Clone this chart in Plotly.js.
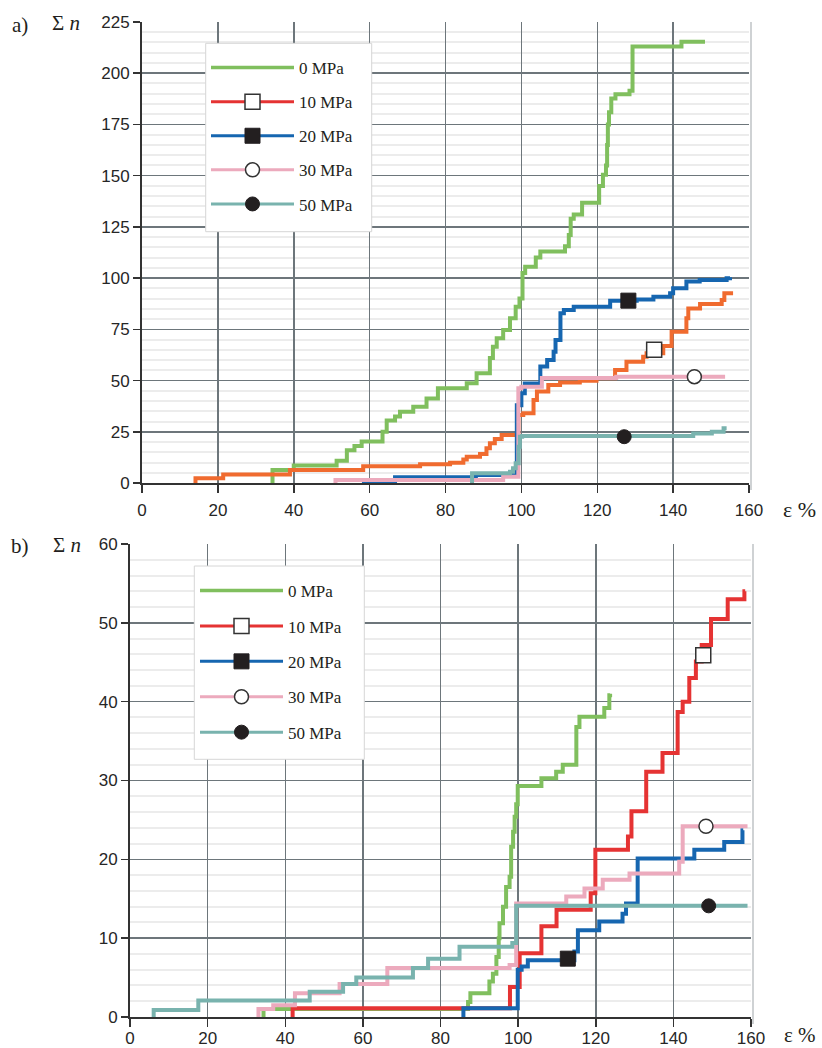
<!DOCTYPE html>
<html><head><meta charset="utf-8">
<script src="https://cdn.plot.ly/plotly-3.0.1.min.js"></script>
<style>html,body{margin:0;padding:0;background:#fff;} #chart{width:822px;height:1048px;}</style>
</head><body><div id="chart"></div>
<script>
// ---------- series names ----------
const seriesNames = ['0 MPa', '10 MPa', '20 MPa', '30 MPa', '50 MPa'];

// ---------- panel a) : strain (%) vs cumulative count ----------
const a_x_0  = [34, 34.4, 40, 51.3, 54, 56, 57.9, 63.4, 64.5, 66.7, 68, 71.5, 75, 78, 85.6, 88.2, 91.7, 92.5, 93.5, 95.2, 97, 98.5, 99.5, 100.3, 101, 103.8, 105, 111.5, 112.5, 113, 113.8, 116, 120.5, 121.5, 122.3, 122.6, 122.8, 123.1, 123.7, 124.8, 128.5, 129.3, 142.2, 148.4];
const a_y_0  = [0, 6.3, 8.5, 10.9, 16, 18, 20.2, 25, 30.5, 32.4, 34.8, 37.2, 41.3, 46.2, 48.7, 53.6, 61, 66.5, 70.6, 74.7, 80.4, 86, 90, 102.5, 105.6, 110, 113, 115.5, 121, 129, 131, 136.8, 145, 150.5, 155, 165, 175, 181, 187.7, 189.7, 191.5, 213, 215.4, 215.4];

const a_x_10 = [14, 14.1, 21.4, 39, 58.3, 73.3, 81.2, 84.7, 85.6, 89.1, 90.8, 91.7, 93, 94.8, 99.2, 100.5, 103.2, 104.1, 107.1, 110.2, 115.4, 119.8, 124.7, 127.7, 132.1, 133, 137.4, 139.6, 143.5, 144, 147.1, 152.8, 153.5, 155.8];
const a_y_10 = [0, 2.3, 4.2, 6.3, 8.2, 9.1, 9.9, 11.5, 12.8, 14.1, 16.9, 19.4, 21.5, 23.4, 33.2, 34, 40.5, 44.6, 47.8, 49, 49.9, 51.1, 55.1, 59.2, 61.6, 63.3, 66.9, 73.8, 80.4, 85.2, 87.4, 89.3, 92.6, 92.6];

const a_x_20 = [58.4, 58.5, 66.7, 88, 98.8, 100, 100.9, 105, 106.8, 108.5, 109, 110.3, 111.2, 113.8, 123.4, 130.4, 134.8, 139.2, 140, 143.5, 147, 154.1, 155];
const a_y_20 = [0, 0.7, 2.8, 3.9, 38, 43.8, 48.6, 56.8, 60, 64.1, 69.8, 82.8, 84.4, 86, 89, 89.6, 90.9, 92.6, 95, 98.3, 99.1, 99.9, 100.4];

const a_x_30 = [50.9, 51, 95.2, 99.2, 100, 105.4, 125, 153.7];
const a_y_30 = [0, 1.5, 3.1, 46.2, 47, 51.3, 51.9, 51.9];

const a_x_50 = [86.9, 87, 97, 97.8, 98.5, 99.3, 99.6, 100.2, 145.3, 150.2, 153.3, 154.1];
const a_y_50 = [0, 4.7, 5.5, 7.2, 9.6, 17.7, 22.6, 22.9, 24.2, 25, 26.7, 26.7];

// single marker position on each curve (10, 20, 30, 50 MPa)
const a_mark_x = [135, 128.2, 145.6, 127.1];
const a_mark_y = [65, 89, 51.9, 22.6];

// ---------- panel b) ----------
const b_x_0  = [34.3, 34.4, 87.1, 87.7, 92.6, 93.5, 94.4, 95, 95.2, 96.1, 96.9, 97.8, 98.2, 98.7, 99.1, 99.5, 99.9, 106, 109.8, 111.5, 115, 115.8, 122.2, 123.5, 123.7];
const b_y_0  = [0, 1, 1.9, 3, 4.5, 5.5, 7.6, 10, 11.9, 14, 16.5, 17.8, 21.6, 23.5, 25.4, 27, 29.3, 30.3, 31.1, 32, 36.8, 38.1, 39.2, 40.8, 41];

const b_x_10 = [41.8, 41.9, 97.9, 100.4, 106, 109.9, 118.7, 119.9, 128.3, 129.2, 133, 137.2, 141.1, 142.4, 144.1, 145.8, 147.3, 149.7, 154, 158.3, 158.5];
const b_y_10 = [0, 1.1, 3.8, 8.1, 11.5, 13.6, 15.7, 21.2, 22.9, 26.1, 31.1, 33.5, 38.7, 40, 43, 45.1, 47.2, 50.5, 53, 54, 54];

const b_x_20 = [85.8, 85.9, 99.9, 100.9, 102.5, 114.5, 115.4, 120.9, 126.9, 127.8, 130.8, 145.4, 153.1, 157.8, 158];
const b_y_20 = [0, 1.1, 6, 6.4, 7.2, 8.3, 11, 12.1, 13.1, 14.4, 20.1, 21.2, 22.2, 23.7, 23.7];

const b_x_30 = [33, 33.1, 36.9, 42.5, 54, 66.3, 97.8, 99.5, 112.4, 117.1, 121.8, 128.7, 141.5, 142.4, 159.1];
const b_y_30 = [0, 1, 1.5, 3, 4.2, 6.2, 6.6, 14.4, 15.3, 16.3, 17.4, 18.2, 19.7, 24.2, 24.2];

const b_x_50 = [6, 6.1, 17.6, 46.3, 54.9, 58.3, 72.9, 76.8, 84.9, 98.5, 99.5, 159.1];
const b_y_50 = [0, 0.9, 2.1, 3.2, 4.2, 5, 6.2, 7.4, 8.9, 9.4, 14.1, 14.1];

const b_mark_x = [147.7, 112.8, 148.4, 149.1];
const b_mark_y = [45.9, 7.4, 24.2, 14.1];

// ---------- axis ticks ----------
const a_ytick_step = 25, a_yminor = 5, b_ytick_step = 10, b_yminor = 2, xtick_step = 20;

// ---------- styles ----------
const C = {green: '#80bf5e', orange: '#f06b2f', red: '#e53333', blue: '#1666b0', pink: '#ecaabd', teal: '#79b3ae'};
const ink = '#231f20';
const markerStyles = [
  {symbol: 'square', size: 15, color: '#ffffff', line: {color: '#333333', width: 1.5}},
  {symbol: 'square', size: 15, color: ink, line: {color: ink, width: 1}},
  {symbol: 'circle', size: 14, color: '#ffffff', line: {color: '#333333', width: 1.5}},
  {symbol: 'circle', size: 14, color: ink, line: {color: ink, width: 1}}
];

function panel(xs, ys, mx, my, lineColors, legendColors, xa, ya, leg) {
  const tr = [];
  for (let i = 0; i < 5; i++) {
    tr.push({
      type: 'scatter', mode: 'lines', x: xs[i], y: ys[i],
      line: {shape: 'hv', color: lineColors[i], width: 4},
      xaxis: xa, yaxis: ya, name: seriesNames[i],
      showlegend: false, legend: leg, hoverinfo: 'skip'
    });
  }
  // legend entries (0 MPa: line only, others carry the single marker on the curve)
  tr.push({
    type: 'scatter', mode: 'lines', x: [null], y: [null],
    line: {color: legendColors[0], width: 3.5},
    xaxis: xa, yaxis: ya, name: seriesNames[0],
    showlegend: true, legend: leg, legendgroup: leg + 'g0', legendrank: 1, hoverinfo: 'skip'
  });
  for (let k = 0; k < 4; k++) {
    tr.push({
      type: 'scatter', mode: 'lines+markers', x: [mx[k]], y: [my[k]],
      line: {color: legendColors[k + 1], width: 3},
      marker: markerStyles[k],
      xaxis: xa, yaxis: ya, name: seriesNames[k + 1],
      showlegend: true, legend: leg, legendgroup: leg + 'g' + (k + 1), legendrank: k + 2,
      hoverinfo: 'skip'
    });
  }
  return tr;
}

const data = []
  .concat(panel([a_x_0, a_x_10, a_x_20, a_x_30, a_x_50], [a_y_0, a_y_10, a_y_20, a_y_30, a_y_50],
                a_mark_x, a_mark_y,
                [C.green, C.orange, C.blue, C.pink, C.teal],
                [C.green, C.red, C.blue, C.pink, C.teal], 'x', 'y', 'legend'))
  .concat(panel([b_x_0, b_x_10, b_x_20, b_x_30, b_x_50], [b_y_0, b_y_10, b_y_20, b_y_30, b_y_50],
                b_mark_x, b_mark_y,
                [C.green, C.red, C.blue, C.pink, C.teal],
                [C.green, C.red, C.blue, C.pink, C.teal], 'x2', 'y2', 'legend2'));

const W = 822, H = 1048;
const tickFont = {family: 'Liberation Sans', size: 17, color: '#262626'};
const majorGrid = '#6d767b';
function xAxis(dom, anchor, standoff) {
  return {domain: dom, anchor: anchor, range: [0, 160], dtick: xtick_step, tick0: 0,
    showgrid: true, gridcolor: majorGrid, gridwidth: 1.5, zeroline: false,
    showline: true, linecolor: '#333', linewidth: 2, ticks: 'outside', ticklen: 8, tickwidth: 1.5, tickcolor: '#333',
    ticklabelstandoff: standoff, tickfont: tickFont, fixedrange: true};
}
function yAxis(dom, anchor, maxv, step, minor) {
  return {domain: dom, anchor: anchor, range: [0, maxv], dtick: step, tick0: 0,
    showgrid: true, gridcolor: majorGrid, gridwidth: 1.5, zeroline: false,
    minor: {dtick: minor, showgrid: true, gridcolor: '#ececec', gridwidth: 2, ticks: ''},
    showline: true, linecolor: '#333', linewidth: 2, ticks: 'outside', ticklen: 7, tickwidth: 1.5, tickcolor: '#333',
    tickfont: tickFont, fixedrange: true};
}
const serif = 'Liberation Serif';
function ann(text, px, py, size) {
  return {text: text, xref: 'paper', yref: 'paper', x: px / W, y: 1 - py / H,
    xanchor: 'center', yanchor: 'middle', showarrow: false, borderpad: 0,
    font: {family: serif, size: size, color: ink}};
}
function box(x0, y0, x1, y1) {
  return {type: 'rect', xref: 'paper', yref: 'paper', x0: x0 / W, x1: x1 / W, y0: 1 - y1 / H, y1: 1 - y0 / H,
    fillcolor: '#ffffff', line: {color: '#d6d6d6', width: 1}, layer: 'above'};
}
function edge(px, py0, py1) {
  return {type: 'line', xref: 'paper', yref: 'paper', x0: px / W, x1: px / W, y0: 1 - py1 / H, y1: 1 - py0 / H,
    line: {color: '#cfd2d4', width: 2}, layer: 'below'};
}
const legendBase = {bgcolor: 'rgba(0,0,0,0)', borderwidth: 0,
  font: {family: serif, size: 17, color: ink}, itemwidth: 83,
  xanchor: 'left', yanchor: 'top', traceorder: 'grouped'};

const layout = {
  width: W, height: H, margin: {l: 0, r: 0, t: 0, b: 0},
  paper_bgcolor: '#ffffff', plot_bgcolor: '#ffffff',
  xaxis: xAxis([142 / W, 749 / W], 'y', 3),
  yaxis: yAxis([1 - 483 / H, 1 - 22 / H], 'x', 225, a_ytick_step, a_yminor),
  xaxis2: xAxis([130 / W, 751 / W], 'y2', -3),
  yaxis2: yAxis([1 - 1017 / H, 1 - 544 / H], 'x2', 60, b_ytick_step, b_yminor),
  legend: Object.assign({}, legendBase, {x: 206 / W, y: 1 - 50 / H, tracegroupgap: 9}),
  legend2: Object.assign({}, legendBase, {x: 195 / W, y: 1 - 573 / H, tracegroupgap: 10.3}),
  shapes: [box(205.7, 43.3, 371.7, 231.7), box(194.3, 566, 364.3, 759.3),
           edge(751, 22, 490), edge(753, 544, 1024)],
  annotations: [
    ann('a)', 20, 25, 21), ann('Σ <i>n</i>', 66, 23, 21), ann('ε %', 799, 509, 22),
    ann('b)', 20, 546, 21), ann('Σ <i>n</i>', 67, 545, 21), ann('ε %', 800, 1035, 21)
  ],
  showlegend: true
};

Plotly.newPlot('chart', data, layout, {displayModeBar: false, staticPlot: true});
</script>
</body></html>
